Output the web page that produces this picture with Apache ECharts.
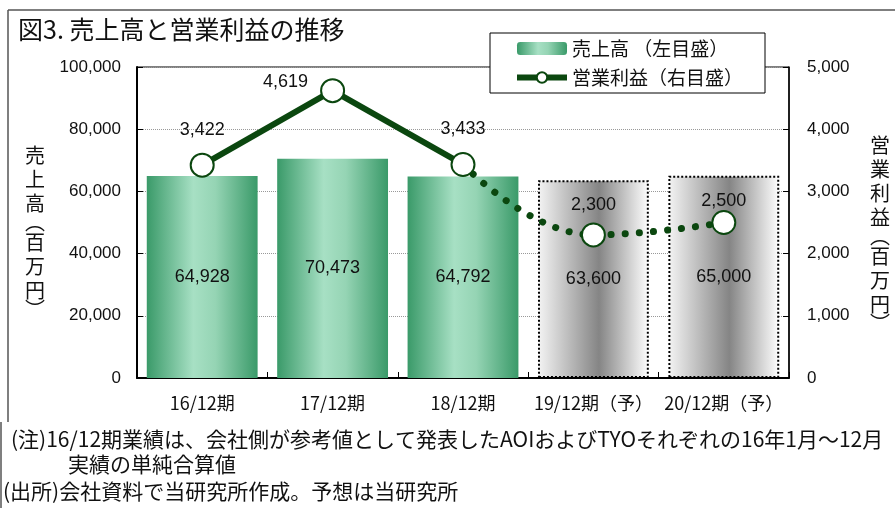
<!DOCTYPE html>
<html>
<head>
<meta charset="utf-8">
<script src="https://cdn.jsdelivr.net/npm/echarts@6/dist/echarts.min.js"></script>
<style>
  html, body { margin: 0; padding: 0; background: #fff; }
  #main { width: 895px; height: 508px; }
</style>
</head>
<body>
<div id="main"></div>
<script>
// 図3 売上高と営業利益の推移
const categories = ['16/12期', '17/12期', '18/12期', '19/12期（予）', '20/12期（予）'];
const sales = [64928, 70473, 64792, 63600, 65000];     // 売上高（百万円）
const profit = [3422, 4619, 3433, 2300, 2500];         // 営業利益（百万円）
const firstForecast = 3;                               // 予想の開始位置
const salesTicks = [0, 20000, 40000, 60000, 80000, 100000];
const profitTicks = [0, 1000, 2000, 3000, 4000, 5000];

const FONT = '"Liberation Sans", "Noto Sans CJK JP", sans-serif';
const JP = '"Noto Sans CJK JP", sans-serif';
const DARK = '#0b470f';

let fmt = v => Number(v).toLocaleString('en-US');

let greenBar = new echarts.graphic.LinearGradient(0, 0, 1, 0, [
  { offset: 0, color: '#3a9a69' },
  { offset: 0.42, color: '#a7e0c4' },
  { offset: 0.62, color: '#95d4b4' },
  { offset: 1, color: '#3a9a69' }
]);
let grayBar = new echarts.graphic.LinearGradient(0, 0, 1, 0, [
  { offset: 0, color: '#f4f4f4' },
  { offset: 0.55, color: '#858585' },
  { offset: 1, color: '#ffffff' }
]);

// 棒（予想分は灰色・点線枠）
let barData = sales.map((v, i) => i < firstForecast ? v : {
  value: v,
  itemStyle: { color: grayBar, borderColor: '#000', borderWidth: 2, borderType: 'dotted' }
});

// ラベル位置（点ごと）
let labelOpt = [
  { position: 'top', distance: 14 },
  { position: 'left', distance: 12, offset: [0, -9] },
  { position: 'top', distance: 14 },
  { position: 'top', distance: 8 },
  { position: 'top', distance: 0 }
];

let solidData = profit.map((v, i) => i < firstForecast ? { value: v, label: labelOpt[i] } : null);
let dotData = profit.map((v, i) => {
  if (i < firstForecast - 1) return null;
  if (i === firstForecast - 1) return { value: v, symbol: 'none', label: { show: false } };
  return { value: v, label: labelOpt[i] };
});

function vertical(chars) {
  return chars.split('').map(c => ('︵︶'.indexOf(c) >= 0 ? '{p|' + c + '}' : '{c|' + c + '}')).join('\n');
}
let vRich = {
  c: { fontSize: 20, lineHeight: 24, fontFamily: JP, fill: '#111' },
  p: { fontSize: 20, lineHeight: 15, fontFamily: JP, fill: '#111' }
};

let chart = echarts.init(document.getElementById('main'));
let option = {
  backgroundColor: '#fff',
  animation: false,
  textStyle: { fontFamily: FONT },
  grid: {
    left: 137, right: 106, top: 67, bottom: 130,
    show: true, borderColor: '#000', borderWidth: 1, backgroundColor: 'transparent'
  },
  legend: {
    left: 490, top: 33,
    orient: 'vertical',
    padding: [6, 22, 6, 24],
    itemGap: 10,
    itemWidth: 50, itemHeight: 13,
    borderColor: '#000', borderWidth: 1, backgroundColor: '#fff',
    textStyle: { fontSize: 19, fontFamily: JP, color: '#111' },
    data: [
      { name: '売上高 （左目盛）' },
      { name: '営業利益（右目盛）', lineStyle: { width: 6, color: DARK } }
    ]
  },
  xAxis: {
    type: 'category',
    data: categories,
    axisLine: { lineStyle: { color: '#000', width: 2 } },
    axisTick: { show: true, inside: true, length: 6, lineStyle: { color: '#000' } },
    axisLabel: { interval: 0, fontSize: 18, fontFamily: JP, color: '#111', margin: 16 }
  },
  yAxis: [
    {
      type: 'value', min: salesTicks[0], max: salesTicks[salesTicks.length - 1], interval: 20000,
      axisLine: { show: true, lineStyle: { color: '#000', width: 2 } },
      axisTick: { show: true, inside: true, length: 6, lineStyle: { color: '#000' } },
      axisLabel: { fontSize: 17, fontFamily: FONT, color: '#111', margin: 16, formatter: fmt },
      splitLine: { show: true, lineStyle: { color: '#999', type: 'dotted', width: 1 } }
    },
    {
      type: 'value', min: profitTicks[0], max: profitTicks[profitTicks.length - 1], interval: 1000,
      axisLine: { show: true, lineStyle: { color: '#000', width: 1.5 } },
      axisTick: { show: true, inside: true, length: 6, lineStyle: { color: '#000' } },
      axisLabel: { fontSize: 17, fontFamily: FONT, color: '#111', margin: 18, formatter: fmt },
      splitLine: { show: false }
    }
  ],
  series: [
    {
      name: '売上高 （左目盛）',
      type: 'bar',
      data: barData,
      barCategoryGap: '15%',
      itemStyle: { color: greenBar },
      label: { show: true, position: 'inside', fontSize: 18, color: '#111', formatter: p => fmt(p.value) },
      z: 2
    },
    {
      name: '営業利益（右目盛）',
      type: 'line',
      yAxisIndex: 1,
      data: solidData,
      symbol: 'circle', symbolSize: 23,
      lineStyle: { color: DARK, width: 6 },
      itemStyle: { color: '#fff', borderColor: DARK, borderWidth: 2 },
      label: { show: true, fontSize: 18, color: '#111', formatter: p => fmt(p.value) },
      z: 4
    },
    {
      name: '営業利益予想',
      type: 'line',
      yAxisIndex: 1,
      data: dotData,
      smooth: 0.45,
      symbol: 'circle', symbolSize: 23,
      lineStyle: { color: DARK, width: 7, type: [0.1, 14], cap: 'round' },
      itemStyle: { color: '#fff', borderColor: DARK, borderWidth: 2 },
      label: { show: true, fontSize: 18, color: '#111', formatter: p => fmt(p.value) },
      z: 3
    }
  ],
  graphic: [
    { type: 'line', shape: { x1: 8, y1: 10, x2: 895, y2: 10 }, style: { stroke: '#555', lineWidth: 1.5 } },
    { type: 'line', shape: { x1: 8, y1: 10, x2: 8, y2: 422 }, style: { stroke: '#555', lineWidth: 1.5 } },
    { type: 'line', shape: { x1: 1, y1: 422, x2: 1, y2: 508 }, style: { stroke: '#555', lineWidth: 1.5 } },
    {
      type: 'text', left: 18, top: 17,
      style: { text: '図3. 売上高と営業利益の推移', font: '25px ' + JP, fill: '#111' }
    },
    {
      type: 'text', x: 35, y: 230,
      style: { text: vertical('売上高︵百万円︶'), rich: vRich, align: 'center', verticalAlign: 'middle' }
    },
    {
      type: 'text', x: 880, y: 232,
      style: { text: vertical('営業利益︵百万円︶'), rich: vRich, align: 'center', verticalAlign: 'middle' }
    },
    {
      type: 'text', x: 11, y: 429,
      style: { text: '(注)16/12期業績は、会社側が参考値として発表したAOIおよびTYOそれぞれの16年1月～12月', font: '21px ' + JP, fill: '#111' }
    },
    {
      type: 'text', x: 68, y: 454,
      style: { text: '実績の単純合算値', font: '21px ' + JP, fill: '#111' }
    },
    {
      type: 'text', x: 3, y: 481,
      style: { text: '(出所)会社資料で当研究所作成。予想は当研究所', font: '21px ' + JP, fill: '#111' }
    }
  ]
};
chart.setOption(option);
</script>
</body>
</html>
